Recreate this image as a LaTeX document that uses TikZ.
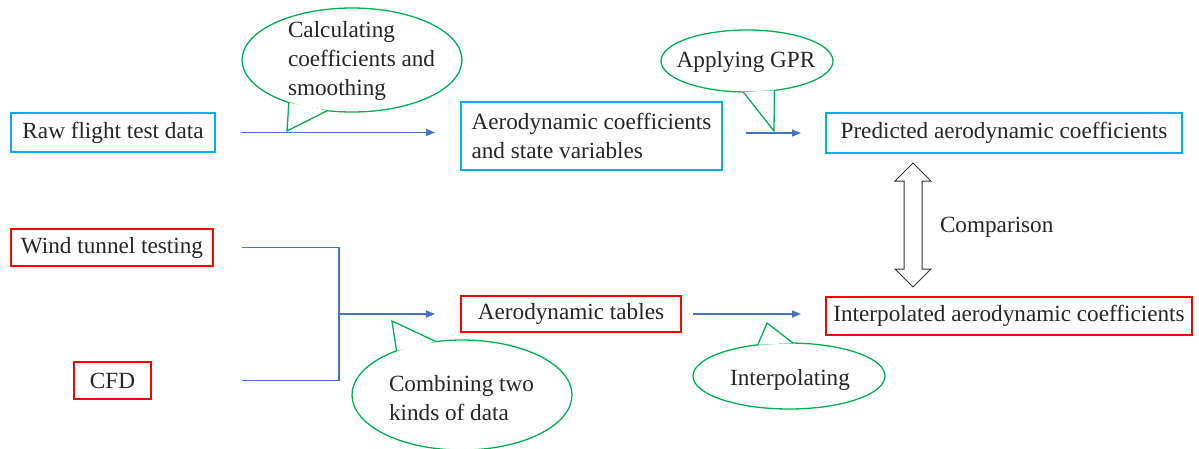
\documentclass[tikz,border=0pt]{standalone}
\usepackage{fontspec}
\setmainfont{Liberation Serif}
\newfontfamily\garfont{Liberation Serif}
\usetikzlibrary{arrows.meta,calc,shapes.geometric}
\definecolor{cyanb}{HTML}{00B0F0}
\definecolor{redb}{HTML}{FF0000}
\definecolor{greenb}{HTML}{00B050}
\definecolor{flowc}{HTML}{4472C4}
\definecolor{txtc}{HTML}{262626}
\tikzset{
  txt/.style={font=\garfont\fontsize{23.2}{29}\selectfont, text=txtc, inner sep=0pt, outer sep=0pt},
  bluebox/.style={txt, draw=cyanb, line width=1.4pt, rectangle},
  redbox/.style={txt, draw=redb, line width=1.4pt, rectangle},
  bubble/.style={ellipse, draw=greenb, line width=1.3pt, inner sep=0pt, outer sep=0pt, fill=white},
  tail/.style={draw=greenb, line width=1.3pt, line join=miter},
  wire/.style={draw=flowc, line width=1.5pt},
  flow/.style={wire, -{Triangle[length=9pt,width=7pt]}},
}
\begin{document}
\begin{tikzpicture}[x=1pt,y=-1pt]
\useasboundingbox (0,0) rectangle (1199,448);
% boxes
\node[bluebox, minimum width=204pt, minimum height=39pt] (raw) at (113,132.5) {Raw flight test data};
\node[bluebox, minimum width=261pt, minimum height=68pt, align=left] (aero) at (591.5,136) {Aerodynamic coefficients\\and state variables};
\node[bluebox, minimum width=356pt, minimum height=40pt] (pred) at (1004,133) {Predicted aerodynamic coefficients};
\node[redbox, minimum width=202pt, minimum height=37pt] (wind) at (112,247.5) {Wind tunnel testing};
\node[redbox, minimum width=77pt, minimum height=37pt] (cfd) at (112.5,380.5) {CFD};
\node[redbox, minimum width=220pt, minimum height=36pt] (tables) at (571,314) {Aerodynamic tables};
\node[redbox, minimum width=366pt, minimum height=38pt] (interp) at (1009,316) {Interpolated aerodynamic coefficients};
% connectors
\draw[flow] ([xshift=26pt]raw.east) -- ([xshift=-26pt]raw.east -| aero.west);
\draw[flow] ([xshift=24pt]pred.west -| aero.east) -- ([xshift=-25pt]pred.west);
\coordinate (w0) at ([xshift=29pt]wind.east);
\coordinate (jn) at ([xshift=-122pt]tables.west);
\draw[wire] (w0) -| (jn);
\draw[wire] (cfd.east -| w0) -| (jn);
\draw[flow] (jn) -- ([xshift=-26pt]tables.west);
\draw[flow] ([xshift=12pt]tables.east) -- ([xshift=-25pt]tables.east -| interp.west);
% comparison double arrow
\draw[line width=1pt, draw=black!80, fill=white, line join=miter]
  (913,163) -- (931,181) -- (922,181) -- (922,269) -- (931,269) -- (913,287)
  -- (895,269) -- (904,269) -- (904,181) -- (895,181) -- cycle;
\node[txt, anchor=west] (cmptxt) at (940,227) {Comparison};
% callouts
\node[bubble, minimum width=220pt, minimum height=104pt] (c1) at (352,60) {};
\coordinate (t1) at (287,131);
\fill[white] (c1.214) -- (t1) -- (c1.244) -- cycle;
\draw[tail] (c1.214) -- (t1) -- (c1.244);
\node[txt, align=left, anchor=west] (c1t) at (288,61) {Calculating\\coefficients and\\smoothing};

\node[bubble, minimum width=172pt, minimum height=62pt] (c2) at (747,61) {};
\coordinate (t2) at (774,131);
\fill[white] (c2.263) -- (t2) -- (c2.313) -- cycle;
\draw[tail] (c2.263) -- (t2) -- (c2.313);
\node[txt] (c2t) at (746,62) {Applying GPR};

\node[bubble, minimum width=220pt, minimum height=110pt] (c3) at (462,395) {};
\coordinate (t3) at (392,321);
\fill[white] (c3.146) -- (t3) -- (c3.116) -- cycle;
\draw[tail] (c3.146) -- (t3) -- (c3.116);
\node[txt, align=left, anchor=west] (c3t) at (389,398) {Combining two\\kinds of data};

\node[bubble, minimum width=192pt, minimum height=66pt] (c4) at (789,376) {};
\coordinate (t4) at (767,323);
\fill[white] (c4.135) -- (t4) -- (c4.83) -- cycle;
\draw[tail] (c4.135) -- (t4) -- (c4.83);
\node[txt] (c4t) at (790,380) {Interpolating};
\end{tikzpicture}
\end{document}
